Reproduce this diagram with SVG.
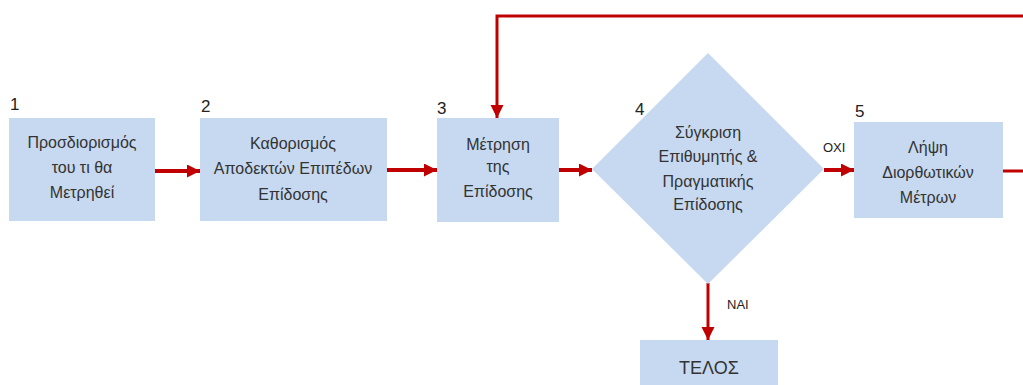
<svg xmlns="http://www.w3.org/2000/svg" width="1023" height="385" viewBox="0 0 1023 385">
  <style>
    .node { fill: #C6D9F0; stroke: none; }
    .lbl { font-family: "Liberation Sans", Arial, sans-serif; font-size: 16px; fill: #333333; text-anchor: middle; }
    .num { font-family: "Liberation Sans", Arial, sans-serif; font-size: 17px; fill: #222222; }
    .tag { font-family: "Liberation Sans", Arial, sans-serif; font-size: 13px; fill: #222222; }
    .conn { fill: none; stroke: #C00000; stroke-width: 4; }
    .thin { stroke-width: 3; }
  </style>
  <defs>
    <marker id="arr" markerUnits="userSpaceOnUse" markerWidth="14" markerHeight="14" refX="13" refY="6.5" orient="auto">
      <path d="M0,0 L13,6.5 L0,13 z" fill="#C00000"/>
    </marker>
  </defs>

  <g id="connectors">
    <line class="conn" x1="155" y1="171" x2="200" y2="171" marker-end="url(#arr)"/>
    <line class="conn" x1="387" y1="170" x2="437" y2="170" marker-end="url(#arr)"/>
    <line class="conn" x1="559" y1="170" x2="592" y2="170" marker-end="url(#arr)"/>
    <line class="conn" x1="824" y1="170" x2="854" y2="170" marker-end="url(#arr)"/>
    <line class="conn thin" x1="708" y1="283" x2="708" y2="340" marker-end="url(#arr)"/>
    <path class="conn thin" d="M1003,171 H1040 V16 H497 V118" marker-end="url(#arr)"/>
    <text class="tag" x="823" y="152">ΟΧΙ</text>
    <text class="tag" x="727" y="309">ΝΑΙ</text>
  </g>

  <g id="node1">
    <text class="num" x="10" y="110">1</text>
    <rect class="node" x="9" y="118" width="146" height="103"/>
    <text class="lbl" x="82" y="148">Προσδιορισμός</text>
    <text class="lbl" x="82" y="173">του τι θα</text>
    <text class="lbl" x="82" y="198">Μετρηθεί</text>
  </g>

  <g id="node2">
    <text class="num" x="201" y="112">2</text>
    <rect class="node" x="200" y="118" width="187" height="103"/>
    <text class="lbl" x="293" y="149">Καθορισμός</text>
    <text class="lbl" x="293" y="174">Αποδεκτών Επιπέδων</text>
    <text class="lbl" x="293" y="200">Επίδοσης</text>
  </g>

  <g id="node3">
    <text class="num" x="437" y="114">3</text>
    <rect class="node" x="437" y="118" width="122" height="104"/>
    <text class="lbl" x="498" y="150">Μέτρηση</text>
    <text class="lbl" x="498" y="172">της</text>
    <text class="lbl" x="498" y="197">Επίδοσης</text>
  </g>

  <g id="node4">
    <polygon class="node" points="708,53 824,169 708,284 592,169"/>
    <text class="num" x="635" y="115">4</text>
    <text class="lbl" x="708" y="138">Σύγκριση</text>
    <text class="lbl" x="708" y="162">Επιθυμητής &amp;</text>
    <text class="lbl" x="708" y="187">Πραγματικής</text>
    <text class="lbl" x="708" y="210">Επίδοσης</text>
  </g>

  <g id="node5">
    <text class="num" x="855" y="117">5</text>
    <rect class="node" x="854" y="122" width="149" height="96"/>
    <text class="lbl" x="928" y="153">Λήψη</text>
    <text class="lbl" x="928" y="178">Διορθωτικών</text>
    <text class="lbl" x="928" y="203">Μέτρων</text>
  </g>

  <g id="end">
    <rect class="node" x="640" y="340" width="138" height="50"/>
    <text class="lbl" x="709" y="374" style="font-size:18px">ΤΕΛΟΣ</text>
  </g>
</svg>
